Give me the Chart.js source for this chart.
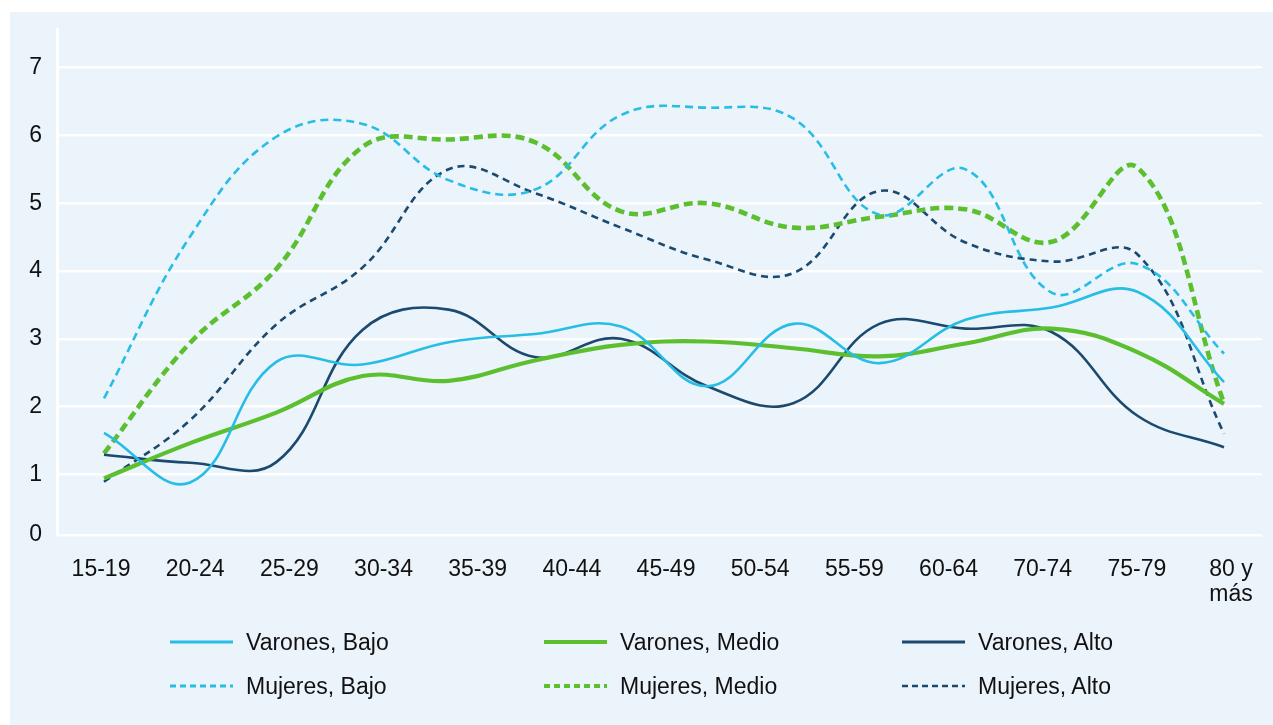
<!DOCTYPE html>
<html><head><meta charset="utf-8">
<script src="https://cdn.jsdelivr.net/npm/chart.js@4.4.1/dist/chart.umd.min.js"></script>
<style>
html,body{margin:0;padding:0;background:#fff;width:1273px;height:725px;overflow:hidden;font-family:"Liberation Sans",Arial,sans-serif;}
#panel{position:absolute;left:10px;top:12px;right:0;bottom:0;background:#EBF3FB;}
#wrap{position:absolute;left:0;top:0;width:1273px;height:725px;}
#legend{position:absolute;left:0;top:0;width:1273px;height:725px;pointer-events:none;}
.item{position:absolute;height:30px;display:flex;align-items:center;font-size:23px;color:#111;white-space:nowrap;}
.item svg{margin-right:13px;display:block;}
</style></head><body>
<div id="panel"></div>
<div id="wrap"><canvas id="c" width="1273" height="725"></canvas></div>
<div id="legend"></div>
<script>
// Tick labels shown on the horizontal axis (13 labels)
const categories = ['15-19','20-24','25-29','30-34','35-39','40-44','45-49','50-54','55-59','60-64','70-74','75-79',['80 y','más']];
// Series values (14 plotted points per series)
const varonesBajo  = [1.61, 0.88, 2.66, 2.62, 2.95, 3.07, 3.18, 2.30, 3.22, 2.64, 3.28, 3.46, 3.69, 2.36];
const varonesMedio = [0.94, 1.46, 1.91, 2.45, 2.38, 2.68, 2.91, 2.96, 2.86, 2.74, 2.93, 3.15, 2.80, 2.04];
const varonesAlto  = [1.29, 1.17, 1.18, 3.13, 3.43, 2.73, 3.00, 2.30, 2.05, 3.22, 3.15, 3.10, 1.86, 1.40];
const mujeresBajo  = [2.12, 4.51, 5.98, 6.17, 5.34, 5.20, 6.30, 6.41, 6.25, 4.83, 5.50, 3.68, 4.10, 2.78];
const mujeresMedio = [1.31, 2.94, 4.03, 5.83, 5.94, 5.90, 4.88, 5.00, 4.64, 4.80, 4.91, 4.43, 5.52, 2.05];
const mujeresAlto  = [0.89, 1.80, 3.21, 4.05, 5.50, 5.15, 4.64, 4.17, 3.97, 5.18, 4.42, 4.14, 4.24, 1.60];
const yTickValues = [0, 1, 2, 3, 4, 5, 6, 7];

const LIGHT = '#27BDE5', GREEN = '#5BBF2E', NAVY = '#1C4A6E';
const FONT = '"Liberation Sans", Arial, sans-serif';

const series = [
  {label:'Varones, Bajo',  values:varonesBajo,  color:LIGHT, width:2.6, dash:[],    lw:3.2, ldash:''},
  {label:'Varones, Medio', values:varonesMedio, color:GREEN, width:4.2, dash:[],    lw:4.2, ldash:''},
  {label:'Varones, Alto',  values:varonesAlto,  color:NAVY,  width:2.6, dash:[],    lw:3.0, ldash:''},
  {label:'Mujeres, Bajo',  values:mujeresBajo,  color:LIGHT, width:2.6, dash:[8,5], lw:3.2, ldash:'6,4'},
  {label:'Mujeres, Medio', values:mujeresMedio, color:GREEN, width:4.6, dash:[9,5], lw:4.2, ldash:'6,4'},
  {label:'Mujeres, Alto',  values:mujeresAlto,  color:NAVY,  width:2.6, dash:[7,5], lw:2.6, ldash:'6,4'}
];

const yMin = 0.105, yMax = 7.57;

const chart = new Chart(document.getElementById('c'), {
  type: 'line',
  data: {
    datasets: series.map(s => ({
      label: s.label,
      data: s.values.map((v, i) => ({x: i, y: v})),
      borderColor: s.color,
      backgroundColor: s.color,
      borderWidth: s.width,
      borderDash: s.dash,
      borderCapStyle: 'butt',
      pointRadius: 0,
      tension: 0.4,
      fill: false,
      xAxisID: 'x',
      yAxisID: 'y'
    }))
  },
  options: {
    responsive: false,
    animation: false,
    layout: {padding: {left: 10, right: 11, top: 29, bottom: 105}},
    plugins: {legend: {display: false}, tooltip: {enabled: false}},
    scales: {
      x: {type: 'linear', display: false, min: -0.5455, max: 13.441},
      xl: {
        type: 'linear', position: 'bottom', min: -0.4673, max: 12.329,
        grid: {display: false}, border: {display: false},
        afterBuildTicks: s => { s.ticks = categories.map((c, i) => ({value: i})); },
        afterFit: s => { s.height = 85; },
        ticks: {
          padding: 14, autoSkip: false, maxRotation: 0, color: '#111',
          font: {size: 23, family: FONT, lineHeight: 1.1},
          callback: (v, i) => categories[i]
        }
      },
      y: {
        min: yMin, max: yMax,
        afterBuildTicks: s => { s.ticks = yTickValues.map(v => ({value: Math.max(v, yMin)})); },
        afterFit: s => { s.width = 47; },
        grid: {color: '#ffffff', lineWidth: 2.5, drawTicks: false},
        border: {display: true, color: '#ffffff', width: 3},
        ticks: {
          padding: 15, color: '#111',
          font: {size: 23, family: FONT},
          callback: (v, i) => String(yTickValues[i])
        }
      }
    }
  }
});

// Legend (3 columns x 2 rows)
const legend = document.getElementById('legend');
const colX = [170, 544, 902];
const rowY = [627, 671];
series.forEach((s, idx) => {
  const d = document.createElement('div');
  d.className = 'item';
  d.style.left = colX[idx % 3] + 'px';
  d.style.top = rowY[Math.floor(idx / 3)] + 'px';
  const svg = `<svg width="63" height="8"><line x1="0" y1="4" x2="63" y2="4" stroke="${s.color}" stroke-width="${s.lw}" ${s.ldash ? `stroke-dasharray="${s.ldash}"` : ''}/></svg>`;
  d.innerHTML = svg + '<span></span>';
  d.querySelector('span').textContent = s.label;
  legend.appendChild(d);
});
</script>
</body></html>
